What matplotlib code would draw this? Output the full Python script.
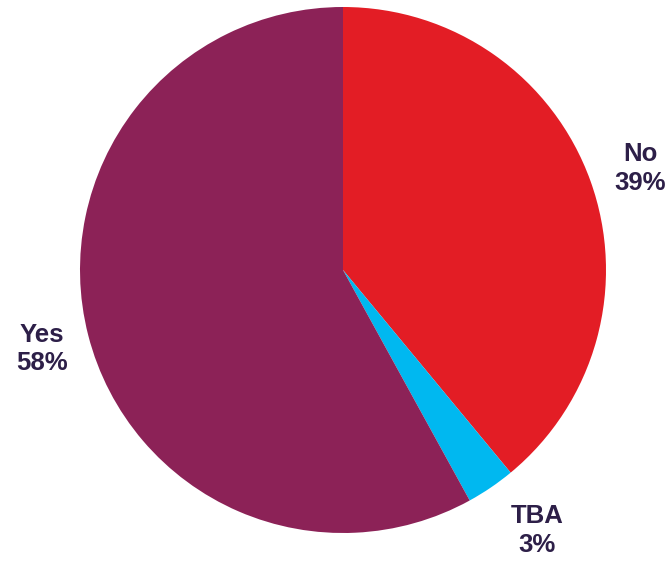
import matplotlib
matplotlib.use("Agg")
import matplotlib.pyplot as plt

labels = ["No", "TBA", "Yes"]
values = [39, 3, 58]
colors = ["#E31D25", "#00B8F0", "#8C2257"]
text_color = "#2D1F48"

# label anchor points (data coords, pie radius = 1)
label_pos = {
    "No": (1.13, 0.385),
    "TBA": (0.738, -0.99),
    "Yes": (-1.144, -0.30),
}

W, H = 670, 562
cx, cy, r = 343, 270, 263

fig = plt.figure(figsize=(W / 100, H / 100), dpi=100)
ax = fig.add_axes([(cx - r) / W, (H - cy - r) / H, 2 * r / W, 2 * r / H])
ax.pie(values, colors=colors, startangle=90, counterclock=False, radius=1,
       wedgeprops=dict(linewidth=0))
ax.set_xlim(-1, 1)
ax.set_ylim(-1, 1)
ax.set_aspect("equal")
ax.axis("off")

for lab, val in zip(labels, values):
    x, y = label_pos[lab]
    ax.text(x, y, f"{lab}\n{val}%", ha="center", va="center",
            fontsize=18.5, fontweight="bold", color=text_color,
            family="Liberation Sans", linespacing=1.25, clip_on=False)

fig.savefig("out.png", dpi=100)
